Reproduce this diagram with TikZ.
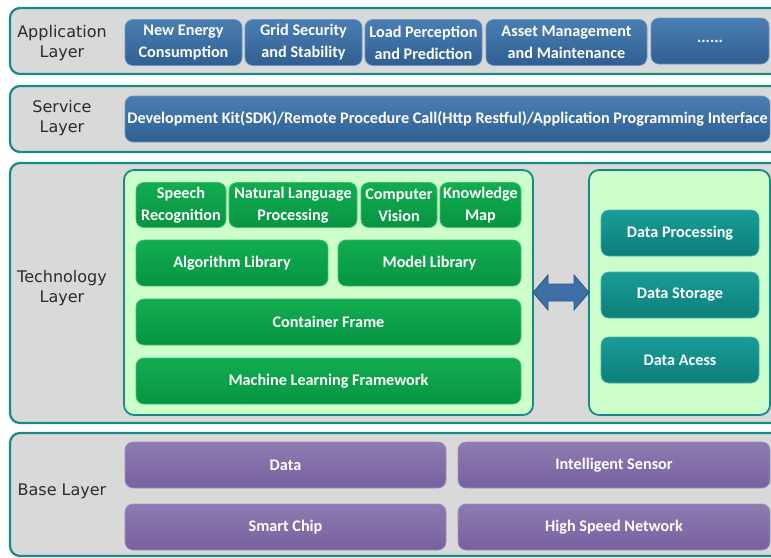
\documentclass[tikz,border=0pt]{standalone}
\usepackage{fontspec}
\setmainfont{Carlito}
\newfontfamily\labelfont{DejaVu Sans}
\usetikzlibrary{calc}
\definecolor{tealline}{HTML}{178A84}
\definecolor{graybg}{HTML}{D9D9D9}
\definecolor{panelgreen}{HTML}{CCFFCC}
\definecolor{blueT}{HTML}{4A7EB3}
\definecolor{blueB}{HTML}{305F91}
\definecolor{blueD}{HTML}{6A95C2}
\definecolor{greenT}{HTML}{12AD50}
\definecolor{greenB}{HTML}{079443}
\definecolor{greenD}{HTML}{3CC070}
\definecolor{tealT}{HTML}{1A9C96}
\definecolor{tealB}{HTML}{0C7F7A}
\definecolor{tealD}{HTML}{3FB3AD}
\definecolor{purpT}{HTML}{8D7BB0}
\definecolor{purpB}{HTML}{7761A0}
\definecolor{purpD}{HTML}{9E8EC0}
\definecolor{arrowfill}{HTML}{3E6FA6}
\definecolor{arrowline}{HTML}{2E558A}
\definecolor{labeltext}{HTML}{2B2B2B}
\tikzset{
  layerbox/.style={draw=tealline, line width=2.2pt, fill=graybg, rounded corners=10pt, inner sep=0pt, outer sep=0pt},
  panelbox/.style={draw=tealline, line width=1.8pt, fill=panelgreen, rounded corners=10pt, inner sep=0pt, outer sep=0pt},
  itembox/.style={rounded corners=8pt, inner sep=0pt, outer sep=0pt, align=center, text=white, line width=0.7pt,
     font=\bfseries\fontsize{16.2}{22}\selectfont},
  bluebox/.style={itembox, top color=blueT, bottom color=blueB, draw=blueD},
  greenbox/.style={itembox, top color=greenT, bottom color=greenB, draw=greenD},
  tealbox/.style={itembox, top color=tealT, bottom color=tealB, draw=tealD},
  purplebox/.style={itembox, top color=purpT, bottom color=purpB, draw=purpD},
  layerlabel/.style={align=center, text=labeltext, font=\labelfont\fontsize{16}{20}\selectfont, inner sep=0pt},
  dblarrow/.style={fill=arrowfill, draw=arrowline, line width=0.8pt, line join=miter}
}
% \bx{style}{name}{x1}{y1}{x2}{y2}{text}
\newcommand{\bx}[7]{\node[#1, minimum width={(#5-#3)*1pt}, minimum height={(#6-#4)*1pt}] (#2) at ({(#3+#5)/2},{(#4+#6)/2}) {#7};}
\begin{document}
\begin{tikzpicture}[x=1pt,y=-1pt]
\useasboundingbox (0,0) rectangle (771,557);
% layers
\bx{layerbox}{applayer}{10}{8}{790}{74}{}
\bx{layerbox}{servlayer}{10}{86}{790}{152}{}
\bx{layerbox}{techlayer}{10}{163}{790}{423}{}
\bx{layerbox}{baselayer}{10}{433}{790}{556}{}
% layer labels
\node[layerlabel] (applabel) at (62,43) {Application\\Layer};
\node[layerlabel] (servlabel) at (62,118) {Service\\Layer};
\node[layerlabel] (techlabel) at (62,288) {Technology\\Layer};
\node[layerlabel] (baselabel) at (62,491) {Base Layer};
% application items
\bx{bluebox,yshift=-1.5pt}{app1}{125}{18}{242}{64}{New Energy\\Consumption}
\bx{bluebox,yshift=-1.5pt}{app2}{245}{18}{362}{64}{Grid Security\\and Stability}
\bx{bluebox,yshift=-1.5pt}{app3}{365}{18}{482}{64}{Load Perception\\and Prediction}
\bx{bluebox,yshift=-1.5pt}{app4}{486}{18}{647}{64}{Asset Management\\and Maintenance}
\bx{bluebox}{app5}{651}{18}{769}{64}{......}
% service
\bx{bluebox}{serv}{125}{96}{770}{142}{Development Kit(SDK)/Remote Procedure Call(Http Restful)/Application Programming Interface}
% technology panels
\bx{panelbox}{lp}{124}{170}{533}{415}{}
\bx{panelbox}{rp}{589}{170}{770}{415}{}
\bx{greenbox,yshift=-1.5pt}{speech}{136}{181}{226}{226}{Speech\\Recognition}
\bx{greenbox,yshift=-1.5pt}{nlp}{229}{181}{357}{226}{Natural Language\\Processing}
\bx{greenbox,yshift=-1.5pt}{cv}{361}{181}{437}{226}{Computer\\Vision}
\bx{greenbox,yshift=-1.5pt}{km}{440}{181}{521}{226}{Knowledge\\Map}
\bx{greenbox}{alg}{136}{240}{328}{286}{Algorithm Library}
\bx{greenbox}{model}{338}{240}{521}{286}{Model Library}
\bx{greenbox}{cont}{136}{299}{521}{345}{Container Frame}
\bx{greenbox}{mlf}{136}{358}{521}{404}{Machine Learning Framework}
\bx{tealbox}{dproc}{601}{210}{759}{256}{Data Processing}
\bx{tealbox}{dstor}{601}{272}{759}{318}{Data Storage}
\bx{tealbox}{dacc}{601}{337}{759}{383}{Data Acess}
% double arrow between panels
\draw[dblarrow] (lp.east) -- ++(15,-17.5) -- ++(0,9) -- ++(26,0) -- ++(0,-9) -- (rp.west)
  -- ++(-15,17.5) -- ++(0,-9) -- ++(-26,0) -- ++(0,9) -- cycle;
% base items
\bx{purplebox}{data}{125}{442}{446}{488}{Data}
\bx{purplebox}{sensor}{458}{442}{770}{488}{Intelligent Sensor}
\bx{purplebox}{chip}{125}{504}{446}{550}{Smart Chip}
\bx{purplebox}{net}{458}{504}{770}{550}{High Speed Network}
\end{tikzpicture}
\end{document}
